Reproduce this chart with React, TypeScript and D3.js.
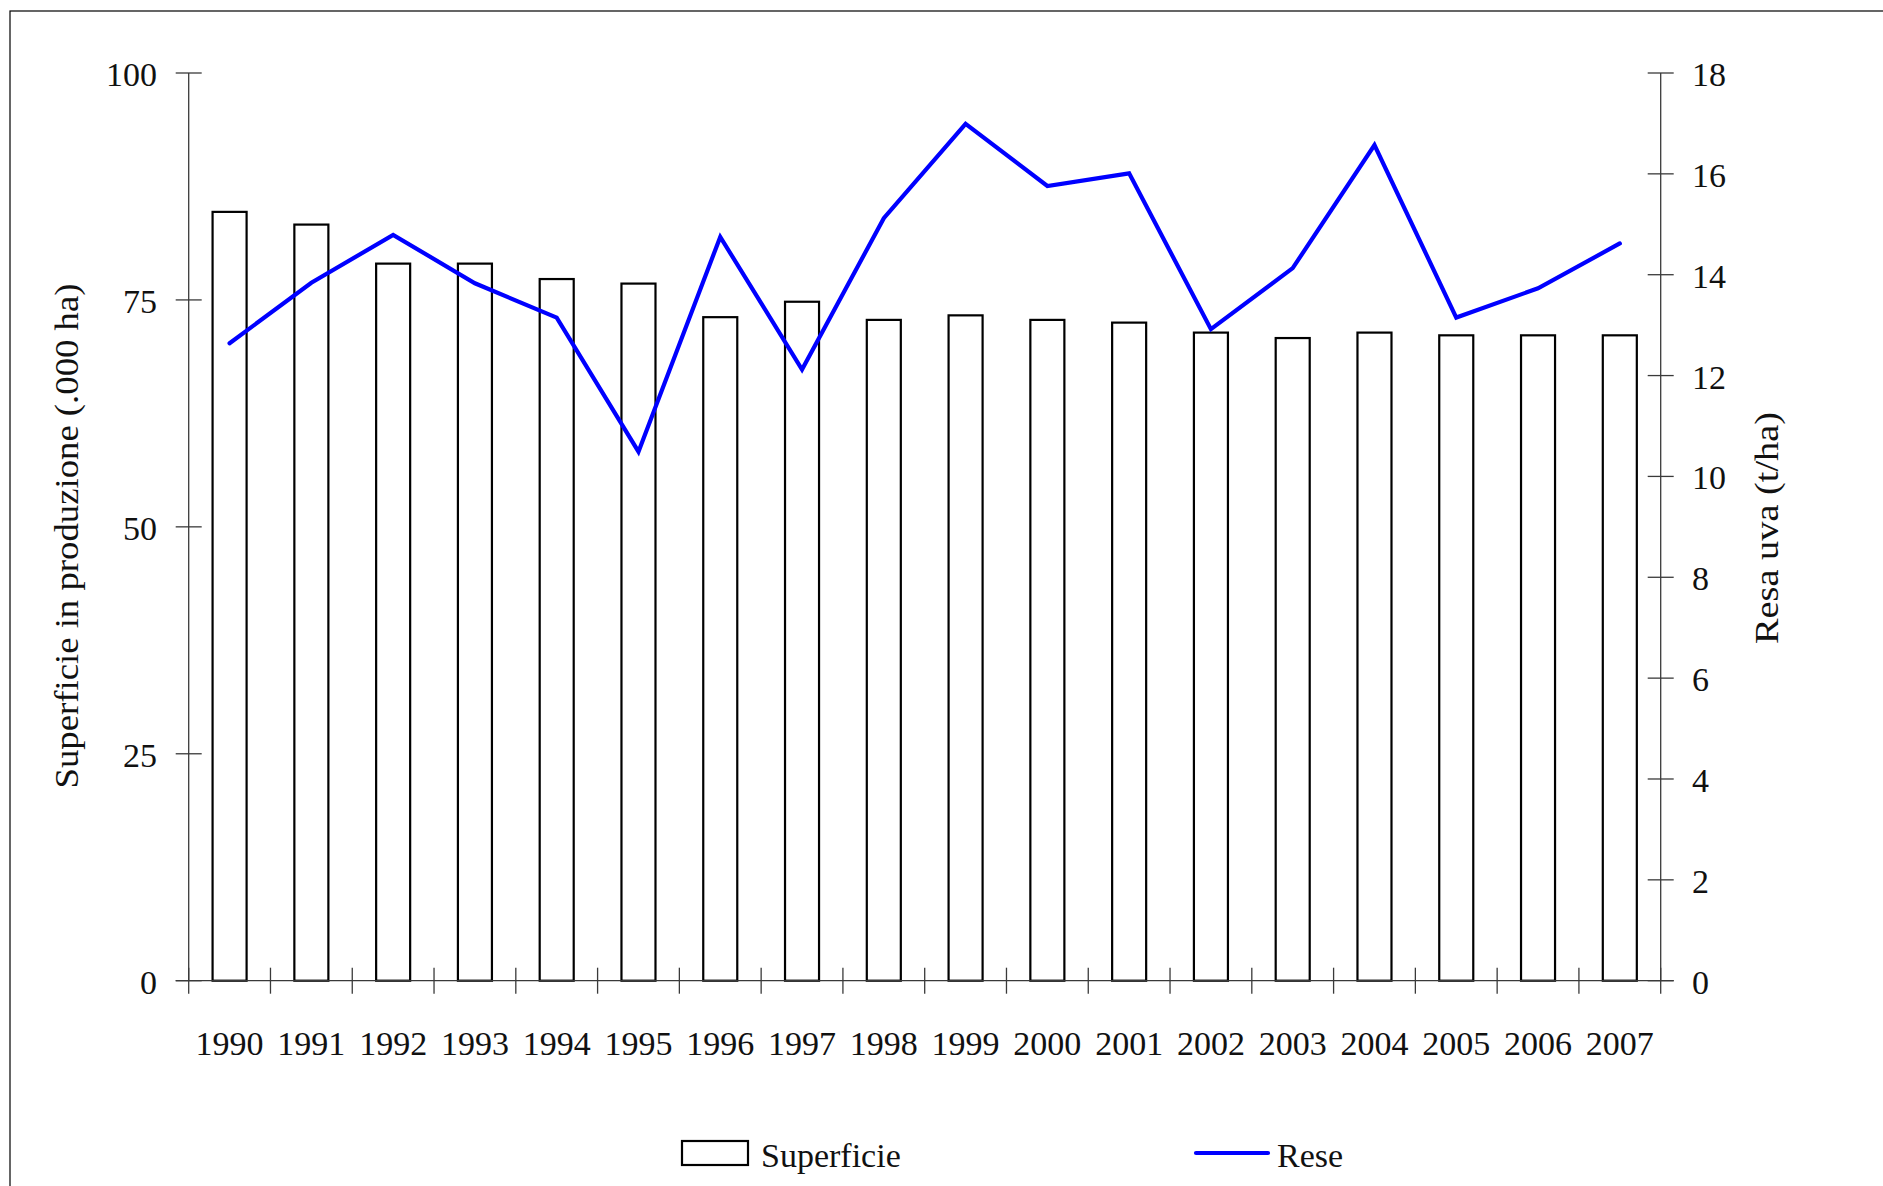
import React from "react";
import * as d3 from "d3";

const years = ["1990","1991","1992","1993","1994","1995","1996","1997","1998","1999","2000","2001","2002","2003","2004","2005","2006","2007"];
const superficie = [84.7, 83.3, 79.0, 79.0, 77.3, 76.8, 73.1, 74.8, 72.8, 73.3, 72.8, 72.5, 71.4, 70.8, 71.4, 71.1, 71.1, 71.1];
const rese = [12.64, 13.84, 14.79, 13.83, 13.15, 10.49, 14.75, 12.12, 15.12, 16.99, 15.76, 16.01, 12.92, 14.13, 16.57, 13.15, 13.73, 14.62];
const leftTicks = [0, 25, 50, 75, 100];
const rightTicks = [0, 2, 4, 6, 8, 10, 12, 14, 16, 18];
const leftTitle = "Superficie in produzione (.000 ha)";
const rightTitle = "Resa uva (t/ha)";
const legendLabels = ["Superficie", "Rese"];

const W = 1883;
const H = 1186;
const X0 = 188.7;
const X1 = 1660.7;
const YTOP = 73;
const YBOT = 980.7;
const FONT = "'Liberation Serif', 'Times New Roman', serif";
const AXIS = "#3a3a3a";
const TXT = "#111";

export default function App() {
  const x = d3.scaleBand<string>().domain(years).range([X0, X1]).padding(0);
  const yL = d3.scaleLinear().domain([0, 100]).range([YBOT, YTOP]);
  const yR = d3.scaleLinear().domain([0, 18]).range([YBOT, YTOP]);
  const bw = x.bandwidth() * 0.416;
  const cx = (y: string) => (x(y) as number) + x.bandwidth() / 2;
  const line = d3.line<number>().x((_, i) => cx(years[i])).y((d) => yR(d));
  const bounds = [...years.map((y) => x(y) as number), X1];

  return (
    <svg width={W} height={H} style={{ position: "fixed", left: 0, top: 0, display: "block", background: "#fff" }} fontFamily={FONT}>
      <rect x={10} y={11} width={W} height={H} fill="#fff" stroke="#000" strokeWidth={1.2} />

      {/* bars */}
      {superficie.map((v, i) => (
        <rect key={years[i]} x={cx(years[i]) - bw / 2} y={yL(v)} width={bw} height={yL(0) - yL(v)} fill="#fff" stroke="#000" strokeWidth={2.2} />
      ))}

      {/* x axis */}
      <line x1={X0 - 13} x2={X1 + 13} y1={YBOT} y2={YBOT} stroke={AXIS} strokeWidth={1.3} />
      {bounds.map((b, i) => (
        <line key={"xt" + i} x1={b} x2={b} y1={YBOT - 13} y2={YBOT + 13} stroke={AXIS} strokeWidth={1.3} />
      ))}
      {years.map((y) => (
        <text key={"xl" + y} x={cx(y)} y={1055} textAnchor="middle" fontSize={34} fill={TXT}>{y}</text>
      ))}

      {/* left axis */}
      <line x1={X0} x2={X0} y1={YTOP} y2={YBOT} stroke={AXIS} strokeWidth={1.3} />
      {leftTicks.map((t) => (
        <g key={"lt" + t}>
          <line x1={X0 - 13} x2={X0 + 13} y1={yL(t)} y2={yL(t)} stroke={AXIS} strokeWidth={1.3} />
          <text x={157} y={yL(t) + 13} textAnchor="end" fontSize={34} fill={TXT}>{t}</text>
        </g>
      ))}
      <text transform={`translate(78, 536) rotate(-90)`} textAnchor="middle" fontSize={34} fill={TXT} textLength={505} lengthAdjust="spacingAndGlyphs">{leftTitle}</text>

      {/* right axis */}
      <line x1={X1} x2={X1} y1={YTOP} y2={YBOT} stroke={AXIS} strokeWidth={1.3} />
      {rightTicks.map((t) => (
        <g key={"rt" + t}>
          <line x1={X1 - 13} x2={X1 + 13} y1={yR(t)} y2={yR(t)} stroke={AXIS} strokeWidth={1.3} />
          <text x={1692} y={yR(t) + 13} textAnchor="start" fontSize={34} fill={TXT}>{t}</text>
        </g>
      ))}
      <text transform={`translate(1778, 528) rotate(-90)`} textAnchor="middle" fontSize={34} fill={TXT} textLength={232} lengthAdjust="spacingAndGlyphs">{rightTitle}</text>

      {/* line */}
      <path d={line(rese) || ""} fill="none" stroke="#0000ff" strokeWidth={4.2} strokeLinejoin="miter" strokeLinecap="round" />

      {/* legend */}
      <rect x={682} y={1141} width={66} height={24} fill="#fff" stroke="#000" strokeWidth={2.2} />
      <text x={761} y={1167} fontSize={34} fill={TXT}>{legendLabels[0]}</text>
      <line x1={1196} x2={1268} y1={1153} y2={1153} stroke="#0000ff" strokeWidth={4.2} strokeLinecap="round" />
      <text x={1277} y={1167} fontSize={34} fill={TXT}>{legendLabels[1]}</text>
    </svg>
  );
}
